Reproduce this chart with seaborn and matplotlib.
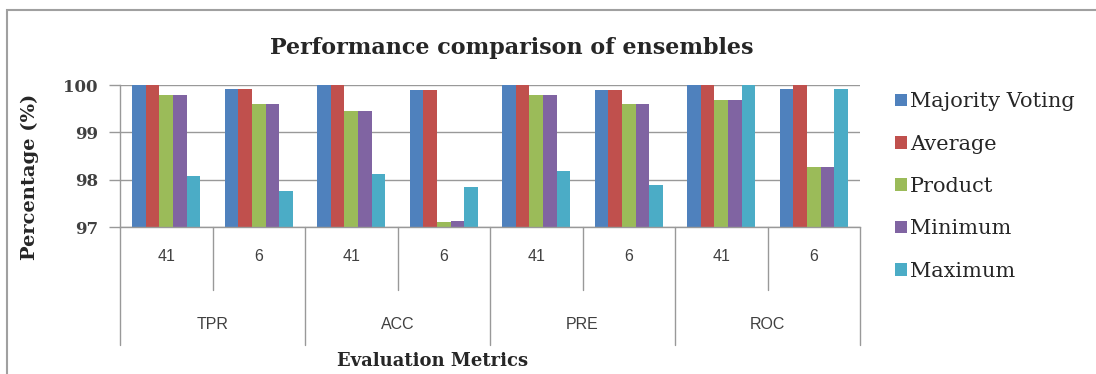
import matplotlib
matplotlib.use("Agg")
import matplotlib.pyplot as plt
import seaborn as sns
import pandas as pd
from matplotlib.patches import Rectangle
from matplotlib.transforms import blended_transform_factory

# Evaluation metrics and the two feature-set sizes under each
metrics = ["TPR", "ACC", "PRE", "ROC"]
feature_sets = ["41", "6"]
methods = ["Majority Voting", "Average", "Product", "Minimum", "Maximum"]
colors = ["#4F81BD", "#C0504D", "#9BBB59", "#8064A2", "#4BACC6"]

# Percentages, ordered TPR-41, TPR-6, ACC-41, ACC-6, PRE-41, PRE-6, ROC-41, ROC-6
majority_voting = [100.0, 99.92, 100.0, 99.90, 100.0, 99.90, 100.0, 99.92]
average = [100.0, 99.92, 100.0, 99.90, 100.0, 99.90, 100.0, 100.0]
product = [99.79, 99.59, 99.46, 97.11, 99.79, 99.60, 99.68, 98.27]
minimum = [99.79, 99.59, 99.46, 97.13, 99.78, 99.60, 99.68, 98.27]
maximum = [98.08, 97.77, 98.11, 97.84, 98.18, 97.89, 100.0, 99.92]

series = dict(zip(methods, [majority_voting, average, product, minimum, maximum]))
combos = [f"{m} {f}" for m in metrics for f in feature_sets]
rows = []
for method, vals in series.items():
    for combo, v in zip(combos, vals):
        rows.append({"combo": combo, "method": method, "value": v})
df = pd.DataFrame(rows)

sns.set_style("white")
plt.rcParams["font.family"] = ["DejaVu Serif"]

fig = plt.figure(figsize=(10.96, 3.74), dpi=100)
ax = fig.add_axes([120 / 1096, 147 / 374, 740 / 1096, 142 / 374])

sns.barplot(data=df, x="combo", y="value", hue="method", order=combos,
            hue_order=methods, palette=colors, width=0.73, saturation=1,
            linewidth=0, ax=ax)

ax.set_ylim(97, 100)
ax.set_xlim(-0.5, len(combos) - 0.5)
ax.set_yticks([97, 98, 99, 100])
ax.set_yticklabels(["97", "98", "99", "100"], fontsize=12, fontweight="bold",
                   color="#404040")
ax.yaxis.grid(True, color="#999999", linewidth=1)
ax.set_axisbelow(True)
ax.tick_params(axis="y", direction="out", length=8, width=1, color="#999999",
               left=True, pad=8)
for s in ["top", "right"]:
    ax.spines[s].set_visible(False)
for s in ["left", "bottom"]:
    ax.spines[s].set_color("#999999")
    ax.spines[s].set_linewidth(1)

# Inner category labels (feature-set size)
ax.set_xticks(range(len(combos)))
ax.set_xticklabels([c.split()[1] for c in combos], fontsize=11.5,
                   family="Liberation Sans", color="#404040")
ax.tick_params(axis="x", length=0, pad=16)
ax.set_xlabel("")
ax.set_ylabel("Percentage (%)", fontsize=14, fontweight="bold")
ax.yaxis.set_label_coords(-0.11, 0.35)

trans = blended_transform_factory(ax.transData, ax.transAxes)
# Outer category labels (metric names) and dividers
for g, m in enumerate(metrics):
    ax.text(2 * g + 0.5, -0.69, m, transform=trans, ha="center", va="center",
            fontsize=11.5, family="Liberation Sans", color="#404040")
for i in range(len(combos) + 1):
    xpos = i - 0.5
    low = -0.83 if i % 2 == 0 else -0.445
    ax.plot([xpos, xpos], [0, low], transform=trans, color="#999999",
            linewidth=1, clip_on=False)

ax.set_title("Performance comparison of ensembles", fontsize=16,
             fontweight="bold", pad=22)
ax.title.set_position((0.53, 1.0))

fig.text(433 / 1096, 13 / 374, "Evaluation Metrics", ha="center", va="center",
         fontsize=13, fontweight="bold")

handles, labels = ax.get_legend_handles_labels()
ax.get_legend().remove()
fig.legend(handles, labels, loc="upper left", bbox_to_anchor=(887 / 1096, 1 - 84 / 374),
           frameon=False, fontsize=15, handlelength=0.55, handleheight=0.55,
           handletextpad=0.15, labelspacing=1.12, borderaxespad=0)

# Chart frame
fig.patches.append(Rectangle((7 / 1096, -0.05), 1.1, 0.973 + 0.05,
                             transform=fig.transFigure, fill=False,
                             edgecolor="#A0A0A0", linewidth=1.5))

fig.savefig("out.png", dpi=100)
